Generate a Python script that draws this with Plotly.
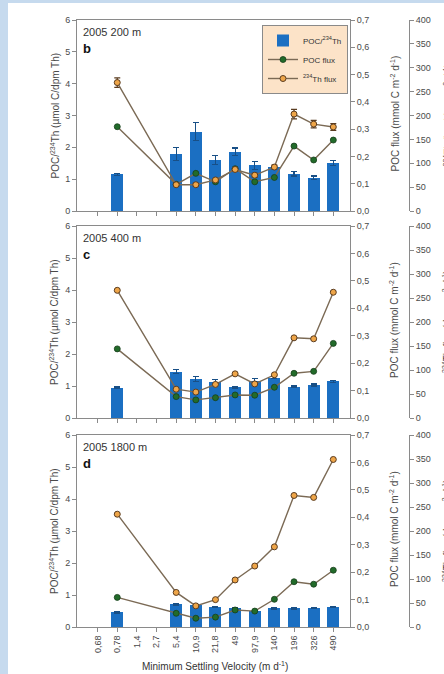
import plotly.graph_objects as go

W, H = 444, 674

categories = ["0,68", "0,78", "1,4", "2,7", "5,4", "10,9", "21,8", "49", "97,9", "140", "196", "326", "490"]

# Panel b: 2005 200 m
ratio_b = [None, 1.15, None, None, 1.79, 2.49, 1.60, 1.86, 1.43, 1.37, 1.17, 1.05, 1.50]
ratio_b_err = [None, 0.04, None, None, 0.20, 0.28, 0.14, 0.12, 0.13, 0.04, 0.07, 0.05, 0.08]
pocflux_b = [None, 0.309, None, None, 0.098, 0.138, 0.107, 0.155, 0.107, 0.123, 0.238, 0.187, 0.260]
thflux_b = [None, 269, None, None, 55, 55, 65, 87, 75, 92, 203, 182, 176]
thflux_b_err = [None, 10, None, None, 3, 3, 3, 4, 4, 4, 10, 8, 7]

# Panel c: 2005 400 m
ratio_c = [None, 0.95, None, None, 1.45, 1.22, 1.13, 0.96, 1.16, 1.26, 0.98, 1.03, 1.15]
ratio_c_err = [None, 0.02, None, None, 0.06, 0.07, 0.07, 0.02, 0.07, 0.03, 0.02, 0.03, 0.03]
pocflux_c = [None, 0.252, None, None, 0.078, 0.066, 0.074, 0.084, 0.083, 0.112, 0.163, 0.170, 0.272]
thflux_c = [None, 266, None, None, 60, 54, 70, 92, 71, 90, 167, 165, 262]

# Panel d: 2005 1800 m
ratio_d = [None, 0.46, None, None, 0.71, 0.69, 0.63, 0.58, 0.51, 0.58, 0.58, 0.60, 0.62]
ratio_d_err = [None, 0.02, None, None, 0.02, 0.02, 0.02, 0.02, 0.02, 0.02, 0.02, 0.02, 0.02]
pocflux_d = [None, 0.108, None, None, 0.050, 0.032, 0.036, 0.062, 0.058, 0.101, 0.165, 0.156, 0.207]
thflux_d = [None, 235, None, None, 72, 44, 57, 98, 127, 167, 274, 270, 349]

panel_titles = ["2005 200 m", "2005 400 m", "2005 1800 m"]
panel_letters = ["b", "c", "d"]

BAR = "#1b6fc2"
BAR_ERR = "#184f86"
LINE = "#7b6a55"
GREEN = "#226b2a"
ORANGE = "#eea548"
DARK = "#5a3c20"
PEACH = "#fce3c8"
OUTER = "#c6daee"
AXC = "#8a8a8a"
TXT = "#4a4a4a"
FONT = "Liberation Sans"

def px_x(p):
    return p / W

def px_y(p):
    return 1 - p / H

# panel pixel extents (top, bottom)
panels = [(20, 211), (226, 418), (435, 627)]
xl, xr = 77, 350
th_axis_x = 409

data_sets = [
    (ratio_b, ratio_b_err, pocflux_b, thflux_b, thflux_b_err),
    (ratio_c, ratio_c_err, pocflux_c, thflux_c, None),
    (ratio_d, ratio_d_err, pocflux_d, thflux_d, None),
]

fig = go.Figure()
layout = dict(
    width=W, height=H,
    margin=dict(l=0, r=0, t=0, b=0, autoexpand=False),
    paper_bgcolor="white",
    plot_bgcolor=PEACH,
    separators=",.",
    font=dict(family=FONT, size=9, color=TXT),
    bargap=0.0,
)

annotations = []
for i, (ratio, rerr, pflux, tflux, terr) in enumerate(data_sets):
    xa = "x" if i == 0 else f"x{i+1}"
    ya = "y" if i == 0 else f"y{3*i+1}"
    ya2 = f"y{3*i+2}"
    ya3 = f"y{3*i+3}"
    top, bot = panels[i]
    dom = [px_y(bot), px_y(top)]
    first = i == 0
    fig.add_trace(go.Bar(
        x=categories, y=ratio, xaxis=xa, yaxis=ya, width=0.61,
        marker=dict(color=BAR, line=dict(width=0)),
        error_y=dict(type="data", array=rerr, color=BAR_ERR, thickness=1.2, width=3),
        name="POC/<sup>234</sup>Th", showlegend=first, legendrank=1,
    ))
    fig.add_trace(go.Scatter(
        x=categories, y=pflux, xaxis=xa, yaxis=ya2, mode="lines+markers", connectgaps=True,
        line=dict(color=LINE, width=1.4),
        marker=dict(color=GREEN, size=6, line=dict(color="#173d1a", width=0.8)),
        name="POC flux", showlegend=first, legendrank=2,
    ))
    th_kw = {}
    if terr is not None:
        th_kw["error_y"] = dict(type="data", array=terr, color=DARK, thickness=1.2, width=3)
    fig.add_trace(go.Scatter(
        x=categories, y=tflux, xaxis=xa, yaxis=ya3, mode="lines+markers", connectgaps=True,
        line=dict(color=LINE, width=1.4),
        marker=dict(color=ORANGE, size=6, line=dict(color=DARK, width=1)),
        name="<sup>234</sup>Th flux", showlegend=first, legendrank=3, **th_kw,
    ))

    xkey = "xaxis" if i == 0 else f"xaxis{i+1}"
    last = i == 2
    layout[xkey] = dict(
        domain=[px_x(xl), px_x(xr)], anchor=ya,
        type="category", categoryorder="array", categoryarray=categories,
        range=[-1.05, 12.85],
        showline=True, linecolor=AXC, linewidth=1, mirror=True,
        ticks="outside", ticklen=4, tickcolor=AXC,
        showticklabels=last, tickangle=-90,
        tickfont=dict(size=9, color=TXT),
        showgrid=False, zeroline=False,
    )
    ykey = "yaxis" if i == 0 else f"yaxis{3*i+1}"
    layout[ykey] = dict(
        domain=dom, anchor=xa, range=[0, 6], dtick=1,
        showline=True, linecolor=AXC, linewidth=1,
        ticks="outside", ticklen=4, tickcolor=AXC,
        showgrid=False, zeroline=False, tickfont=dict(size=9, color=TXT),
    )
    layout[f"yaxis{3*i+2}"] = dict(
        overlaying=ya, anchor=xa, side="right", range=[0, 0.7], dtick=0.1,
        tickformat=".1f",
        showline=True, linecolor=AXC, linewidth=1,
        ticks="outside", ticklen=4, tickcolor=AXC,
        showgrid=False, zeroline=False, tickfont=dict(size=9, color=TXT),
    )
    layout[f"yaxis{3*i+3}"] = dict(
        overlaying=ya, anchor="free", position=px_x(th_axis_x), side="right",
        range=[0, 400], dtick=50,
        showline=True, linecolor=AXC, linewidth=1,
        ticks="outside", ticklen=4, tickcolor=AXC,
        showgrid=False, zeroline=False, tickfont=dict(size=9, color=TXT),
    )

    mid = (top + bot) / 2
    annotations += [
        dict(text=panel_titles[i], x=px_x(81), y=px_y(top + 12), xref="paper", yref="paper",
             xanchor="left", yanchor="middle", showarrow=False,
             font=dict(size=11, color="#333333")),
        dict(text=f"<b>{panel_letters[i]}</b>", x=px_x(81), y=px_y(top + 28), xref="paper", yref="paper",
             xanchor="left", yanchor="middle", showarrow=False,
             font=dict(size=13, color="#111111")),
        dict(text="POC/<sup>234</sup>Th (µmol C/dpm Th)", x=px_x(54), y=px_y(mid), xref="paper", yref="paper",
             textangle=-90, xanchor="center", yanchor="middle", showarrow=False,
             font=dict(size=10, color=TXT)),
        dict(text="POC flux (mmol C m<sup>-2</sup> d<sup>-1</sup>)", x=px_x(394), y=px_y(mid - 2), xref="paper", yref="paper",
             textangle=-90, xanchor="center", yanchor="middle", showarrow=False,
             font=dict(size=10, color=TXT)),
        dict(text="<sup>234</sup>Th flux (dpm m<sup>-2</sup> d<sup>-1</sup>)", x=px_x(447), y=px_y(mid), xref="paper", yref="paper",
             textangle=-90, xanchor="center", yanchor="middle", showarrow=False,
             font=dict(size=10, color=TXT)),
    ]

annotations.append(dict(text="Minimum Settling Velocity (m d<sup>-1</sup>)", x=px_x(215), y=px_y(666),
                        xref="paper", yref="paper", xanchor="center", yanchor="middle", showarrow=False,
                        font=dict(size=10, color="#333333")))

layout["annotations"] = annotations
layout["shapes"] = [
    dict(type="rect", xref="paper", yref="paper", x0=0, x1=1, y0=0, y1=1,
         fillcolor=OUTER, line=dict(width=0), layer="below"),
    dict(type="rect", xref="paper", yref="paper", x0=px_x(8), x1=1.01, y0=-0.01, y1=px_y(3),
         fillcolor="white", line=dict(width=0), layer="below"),
]
layout["legend"] = dict(
    x=px_x(348), y=px_y(25), xanchor="right", yanchor="top",
    bgcolor=PEACH, bordercolor=AXC, borderwidth=1,
    font=dict(size=8, color="#333333"), tracegroupgap=0,
    itemwidth=30, traceorder="normal",
)
fig.update_layout(**layout)
fig.write_html(
    "out.html",
    config={"displayModeBar": False},
    post_script="document.body.style.margin='0';document.body.style.overflow='hidden';document.body.style.background='" + OUTER + "';",
)
